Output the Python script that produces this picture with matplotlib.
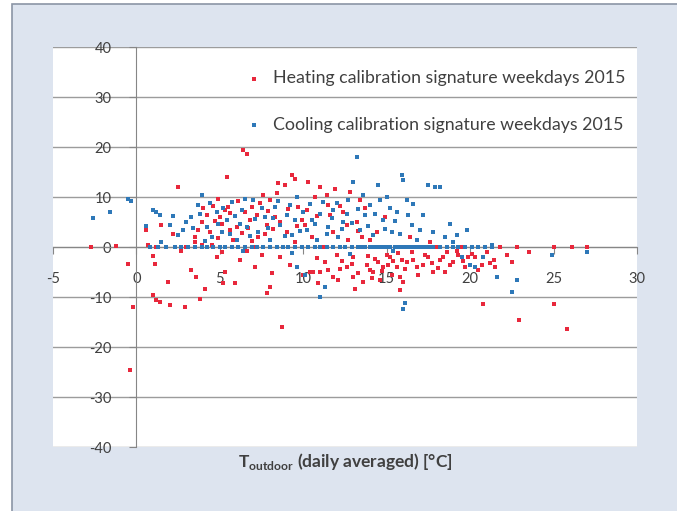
import matplotlib.pyplot as plt
from matplotlib.patches import Rectangle

plt.rcParams['font.family'] = ['Lato', 'DejaVu Sans']
plt.rcParams['mathtext.fontset'] = 'custom'
plt.rcParams['mathtext.rm'] = 'Lato'
plt.rcParams['mathtext.bf'] = 'Lato:bold'

# Heating calibration signature weekdays 2015 (red)
heat_x = [-2.7, -0.5, -0.2, -0.4, -1.2,
          0.6, 1.0, 1.1, 1.0, 1.2, 1.4, 1.9, 2.0, 1.5, 0.7, 1.8, 2.2, 2.5, 1.2,
          2.9, 3.8, 4.1, 3.6, 3.3, 3.0, 3.5, 3.9, 3.5, 2.7, 3.9,
          4.4, 4.7, 5.0, 5.2, 5.3, 5.1, 5.4, 5.6, 5.9, 5.8, 4.8, 5.5, 6.0, 4.5, 5.7, 4.9,
          6.4, 6.6, 6.5, 6.8, 7.1, 7.3, 7.6, 7.0, 6.2, 7.5, 6.9, 7.8, 7.2, 6.6,
          7.8, 8.0, 8.1, 8.7, 8.5, 8.9, 9.3, 9.5, 8.3, 9.0, 9.7, 8.6, 9.2, 9.9, 8.8, 9.5, 10.0, 8.0,
          10.9, 10.4, 10.6, 11.0, 11.3, 10.2, 10.7, 11.0, 11.5, 11.8, 10.5, 11.2, 12.0, 11.8, 12.2, 10.3, 11.6,
          12.6, 13.0, 12.4, 13.2, 13.5, 13.0, 13.8, 12.8, 13.4, 14.0, 13.6, 12.5, 14.0,
          14.2, 14.5, 14.8, 15.0, 15.3, 15.6, 14.4, 14.9, 15.5, 15.9, 14.6, 15.2, 15.8,
          16.2, 16.5, 16.8, 17.2, 17.5, 17.8, 16.4, 17.0, 16.0, 17.6,
          18.2, 18.6, 19.0, 19.3, 19.7, 18.5, 19.5, 18.0, 19.9,
          20.3, 20.7, 21.0, 21.4, 20.8, 20.5, 21.8, 21.5,
          22.2, 22.5, 22.9, 22.8, 25.0, 25.8, 25.0, 26.1, 23.5, 27.0,
          4.2, 4.6, 5.1, 5.6, 6.1, 6.3, 6.7, 7.4, 7.9, 8.2, 8.6, 4.9, 5.3, 6.9, 7.7,
          8.4, 9.1, 9.6, 3.7, 4.0,
          10.8, 11.5, 12.3, 12.9, 13.3, 13.9, 14.3, 14.7, 15.1, 15.4, 15.7, 16.1, 16.6,
          16.9, 17.3, 17.7, 18.1, 18.4, 18.8, 19.2, 19.6, 20.1, 20.5, 21.2, 14.1, 12.1,
          13.1, 15.8,
          10.1, 10.8, 11.4, 12.2, 12.6, 11.9, 13.7, 13.3, 12.7]
heat_y = [0.0, -3.3, -11.9, -24.6, 0.2,
          3.5, -1.8, -3.4, -9.6, -10.6, -11.0, -7.0, -11.6, 4.5, 0.5, 0.0, 2.6, 12.0, 0.0,
          -12.0, -10.4, -8.4, -6.0, -4.5, 0.0, 2.0, 5.0, 1.0, -0.8, 0.5,
          3.0, 5.2, 6.0, -7.2, -5.0, -1.0, 14.0, 3.5, -7.2, 1.5, -2.0, 8.0, 4.0, 0.5, 0.0, 9.7,
          19.4, 18.7, 7.0, 5.5, -4.0, 2.0, 10.5, 0.0, -2.5, -1.5, 8.0, 4.5, 6.5, -0.8,
          -9.2, -8.0, -5.2, -16.0, 12.8, 12.5, 14.5, 13.7, 6.0, 3.0, 8.0, -2.0, -3.5, 5.5, 0.0, 1.0, -5.5, 9.5,
          -7.2, -5.0, -5.0, -5.0, -3.0, 7.5, 10.0, 12.0, 8.5, 3.0, 2.0, 0.0, -1.5, -6.0, -4.3, 13.0, 6.5,
          -4.0, -6.0, 7.0, 5.0, 2.0, -2.0, -3.5, 11.0, 9.5, -4.5, -7.0, 0.0, 1.5,
          -5.0, -3.0, -4.0, -1.5, -5.5, -4.0, 3.0, 6.0, 0.0, -2.5, -6.5, -2.0, -6.0,
          -3.0, -1.0, -4.0, -3.5, -2.0, -5.0, 2.0, 0.0, -7.0, 1.0,
          -2.5, -1.0, -3.0, -1.5, -4.0, -5.0, 0.0, 0.0, -2.0,
          -2.0, -3.5, -1.0, -2.5, -11.4, 0.0, 0.0, -4.0,
          -1.5, -3.0, -14.6, 0.0, -11.4, -16.4, 0.0, 0.0, -1.0, 0.0,
          6.5, 8.2, 4.6, 6.8, 9.2, 2.8, 3.9, 8.8, 7.2, 3.6, 5.1, 1.8, 7.4, 1.2, 2.6,
          10.8, 7.6, 4.2, 3.4, 7.8,
          -2.2, -4.6, -2.8, -3.4, -5.2, -1.8, -2.4, -4.8, -3.6, -2.8, -1.2, -4.4, -2.6,
          -5.6, -1.6, -3.2, -4.2, -2.0, -3.6, -0.8, -2.8, -1.4, -4.6, -3.2, -6.2, -6.6,
          -8.4, -8.6,
          4.4, 6.2, 10.4, 8.2, 4.4, 11.6, 7.8, 3.2, 1.4]

# Cooling calibration signature weekdays 2015 (blue)
cool_x = [0.8, 1.3, 1.8, 2.3, 2.7, 3.1, 3.5, 3.9, 4.2, 4.6, 5.0, 5.3, 5.7, 6.1, 6.5, 6.9,
          7.2, 7.6, 8.0, 8.4, 8.8, 9.1, 9.5, 9.9, 10.3, 10.7, 11.0, 11.4, 11.8, 12.2, 12.5,
          12.9, 13.3, 13.7, 14.0, 14.4, 14.8, 15.2, 15.5, 15.9, 16.3, 16.7, 17.1, 17.4, 17.8,
          18.2, 18.6, 19.0, 19.3, 19.7, 20.1, 20.5, 20.9, 21.3,
          13.5, 14.2, 14.6, 15.0, 15.7, 16.1, 16.5, 16.9, 17.3, 17.6,
          -2.6, -1.6, -0.5, -0.3, 1.0, 1.2, 1.4,
          1.5, 2.0, 2.5, 3.0, 3.3, 3.7, 3.9, 4.2, 4.5, 4.8, 5.1, 5.4, 5.7, 6.0, 6.3, 6.6,
          7.0, 7.3, 7.7, 8.0, 8.3, 8.6, 9.0, 9.3, 9.6, 10.0, 10.2, 10.5, 10.8, 11.2, 11.5,
          11.8, 12.1, 12.4, 12.7, 13.0, 13.2, 13.4, 13.7, 14.0, 14.2, 14.5, 14.8, 15.0, 15.3,
          15.6, 15.9, 16.0, 16.2, 16.5, 16.8, 17.2, 17.5, 17.9, 18.2, 17.8, 18.5, 19.0, 19.5,
          20.0, 20.3, 19.8, 20.8, 21.3, 21.6, 22.5, 22.8, 16.1, 16.0, 11.3, 11.0, 10.1, 9.6,
          27.0, 24.9,
          3.4, 3.8, 4.4, 4.9, 5.2, 5.6, 5.9, 6.2, 6.5, 6.8, 7.1, 7.5, 7.9, 8.2, 8.5, 8.9,
          9.2, 9.5, 9.8, 10.4, 10.7, 11.0, 11.4, 11.7, 12.0, 12.3, 12.6, 12.9, 13.3, 13.6,
          13.9, 14.3, 14.6, 14.9, 15.2, 15.5, 15.8, 16.3, 16.6, 17.0, 4.1, 2.8, 2.2, 0.6,
          18.8, 19.2, 6.4, 9.3, 12.8, 15.4]
cool_y = [0.0, 0.0, 0.0, 0.0, 0.0, 0.0, 0.0, 0.0, 0.0, 0.0, 0.0, 0.0, 0.0, 0.0, 0.0, 0.0,
          0.0, 0.0, 0.0, 0.0, 0.0, 0.0, 0.0, 0.0, 0.0, 0.0, 0.0, 0.0, 0.0, 0.0, 0.0,
          0.0, 0.0, 0.0, 0.0, 0.0, 0.0, 0.0, 0.0, 0.0, 0.0, 0.0, 0.0, 0.0, 0.0,
          0.0, 0.0, 0.0, 0.0, 0.0, 0.0, 0.0, 0.0, 0.0,
          0.0, 0.0, 0.0, 0.0, 0.0, 0.0, 0.0, 0.0, 0.0, 0.0,
          5.8, 7.0, 9.6, 9.3, 7.4, 7.0, 6.5,
          1.0, 4.5, 2.5, 5.0, 6.0, 8.5, 10.5, 4.0, 2.0, 7.0, 3.0, 5.5, 9.0, 1.5, 7.5, 4.0,
          9.5, 3.0, 6.0, 1.5, 8.0, 4.5, 6.5, 2.5, 10.0, 7.0, 3.5, 5.5, 1.5, 9.0, 4.0,
          7.5, 2.0, 5.0, 9.5, 13.0, 18.0, 3.5, 6.5, 8.5, 2.5, 12.5, 5.5, 10.0, 3.0,
          7.0, 14.5, 13.5, 9.5, 4.5, 1.5, 6.5, 12.5, 12.0, 12.0, 3.0, 2.0, 1.0, -2.0,
          -3.5, -4.0, 3.5, -2.0, 0.5, -6.0, -9.0, -6.5, -11.2, -12.4, -8.0, -10.0, -5.5, -4.0,
          -1.0, -1.5,
          3.8, 6.6, 8.8, 4.6, 7.8, 2.6, 6.2, 4.6, 9.6, 2.2, 5.6, 7.8, 3.8, 5.8, 9.2, 2.2,
          8.4, 5.4, 3.2, 8.6, 4.6, 6.6, 2.6, 5.8, 8.8, 3.6, 6.6, 4.8, 7.6, 10.4,
          4.2, 6.6, 9.4, 3.6, 7.8, 5.2, 2.6, 6.4, 8.6, 3.4, 1.2, 3.4, 6.2, 4.2,
          4.6, 2.4, -0.8, -1.2, -1.4, -0.8]

x_ticks = [-5, 0, 5, 10, 15, 20, 25, 30]
y_ticks = [-40, -30, -20, -10, 0, 10, 20, 30, 40]

TEXT = '#404040'
RED = '#e8283c'
BLUE = '#2e78b8'

fig = plt.figure(figsize=(6.77, 5.11), dpi=100, facecolor='white')
W, H = 677, 511

# chart area background with border
fig.patches.append(Rectangle((12 / W, -0.05), 1.1, (H - 4) / H + 0.05,
                             transform=fig.transFigure, facecolor='#dde4ef',
                             edgecolor='#8b95a5', linewidth=1.2, zorder=-10))

ax = fig.add_axes([53 / W, 1 - 447 / H, (637 - 53) / W, (447 - 47) / H])
ax.set_facecolor('white')
ax.set_xlim(-5, 30)
ax.set_ylim(-40, 40)

for yv in y_ticks:
    ax.axhline(yv, color='#9c9c9c', linewidth=1.0, zorder=1)

ax.scatter(heat_x, heat_y, s=6, marker='s', color=RED, linewidths=0, zorder=3,
           label='Heating calibration signature weekdays 2015')
ax.scatter(cool_x, cool_y, s=6, marker='s', color=BLUE, linewidths=0, zorder=3,
           label='Cooling calibration signature weekdays 2015')

ax.spines['top'].set_visible(False)
ax.spines['right'].set_visible(False)
ax.spines['left'].set_position(('data', 0))
ax.spines['bottom'].set_position(('data', 0))
ax.spines['left'].set_color('#868686')
ax.spines['bottom'].set_color('#868686')
ax.spines['left'].set_zorder(2)
ax.spines['bottom'].set_zorder(2)

ax.set_xticks(x_ticks)
ax.set_yticks(y_ticks)
ax.set_yticklabels([str(v) for v in y_ticks])
ax.set_xticklabels([str(v) for v in x_ticks])
ax.tick_params(axis='y', direction='out', length=5, color='#868686', pad=13,
               labelsize=10.5, labelcolor=TEXT)
ax.tick_params(axis='x', direction='out', length=5, color='#868686', pad=13,
               labelsize=10.5, labelcolor=TEXT)

fig.text(345 / W, 1 - 462 / H, r'T$_{\mathbf{outdoor}}$ (daily averaged) [°C]',
         ha='center', va='center', fontsize=12.5, fontweight='bold', color=TEXT)

leg = ax.legend(loc='upper right', bbox_to_anchor=(638 / W, 1 - 58 / H),
                bbox_transform=fig.transFigure, frameon=False, fontsize=12.8,
                labelspacing=1.7, handletextpad=0.1, markerscale=1.0,
                scatterpoints=1, borderpad=0.2)
for t in leg.get_texts():
    t.set_color(TEXT)

fig.savefig('out.png', dpi=100)
